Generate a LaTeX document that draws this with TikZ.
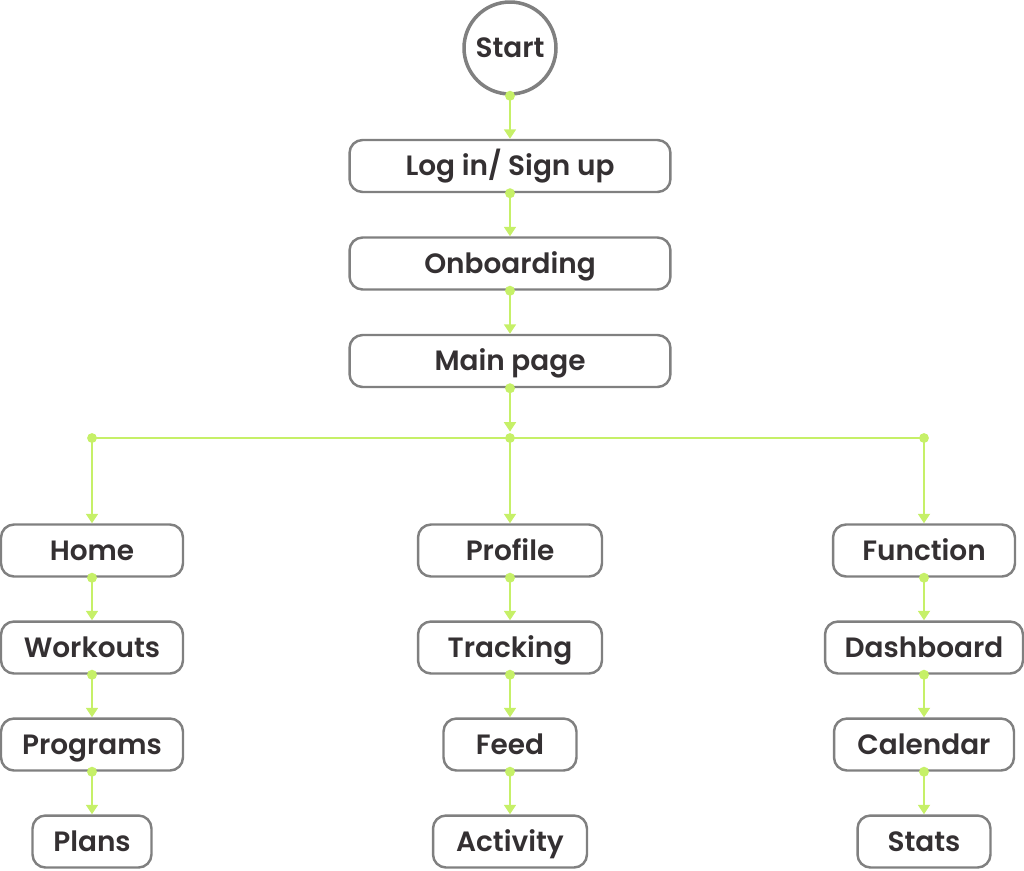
\documentclass[tikz,border=0pt]{standalone}
\usepackage{fontspec}
\setmainfont{Poppins}[BoldFont={Poppins SemiBold}]
\usetikzlibrary{arrows.meta}
\definecolor{lime}{RGB}{198,240,104}
\definecolor{edgegray}{RGB}{128,128,128}
\definecolor{inkdark}{RGB}{52,48,50}
\tikzset{
    label font/.style={text=inkdark,font=\bfseries\fontsize{15.9}{19}\selectfont},
    box/.style={draw=edgegray,line width=1.4pt,rounded corners=0.26cm,fill=white,
        minimum height=1.04cm,inner sep=0pt,text height=13.9pt,text depth=2.8pt,label font},
    link/.style={lime,line width=1.1pt,
        {Circle[length=5.6pt]}-{Triangle[length=5.4pt,width=6.8pt]},shorten <=-2.8pt},
    drop/.style={lime,line width=1.1pt,-{Triangle[length=5.4pt,width=6.8pt]}},
    dot/.style={fill=lime,draw=none,circle,inner sep=0pt,minimum size=5.6pt}
}

\begin{document}
\begin{tikzpicture}[x=0.02cm,y=-0.02cm]
    \useasboundingbox (0,0) rectangle (1024,870);
    % top chain
    \node[circle,draw=edgegray,line width=2pt,minimum size=1.84cm,inner sep=0pt,fill=white,
        text height=13.9pt,text depth=2.8pt,label font] (start) at (510,48) {Start};
    \node[box,minimum width=6.42cm] (login) at (510,166) {Log in/ Sign up};
    \node[box,minimum width=6.42cm] (onboard) at (510,263.5) {Onboarding};
    \node[box,minimum width=6.42cm] (mainpage) at (510,361) {Main page};
    \draw[link] (start.south) -- (login.north);
    \draw[link] (login.south) -- (onboard.north);
    \draw[link] (onboard.south) -- (mainpage.north);
    % branch
    \coordinate (jleft) at (92,438);
    \coordinate (jmid) at (510,438);
    \coordinate (jright) at (924,438);
    \draw[lime,line width=1.1pt] (jleft) -- (jright);
    \draw[link,shorten >=3.6pt] (mainpage.south) -- (jmid);
    \node[dot] at (jleft) {};
    \node[dot] at (jmid) {};
    \node[dot] at (jright) {};
    % left column
    \node[box,minimum width=3.64cm] (home) at (92,550.5) {Home};
    \node[box,minimum width=3.64cm] (workouts) at (92,647.5) {Workouts};
    \node[box,minimum width=3.64cm] (programs) at (92,744.5) {Programs};
    \node[box,minimum width=2.38cm] (plans) at (92,841.5) {Plans};
    \draw[drop] (jleft) -- (home.north);
    \draw[link] (home.south) -- (workouts.north);
    \draw[link] (workouts.south) -- (programs.north);
    \draw[link] (programs.south) -- (plans.north);
    % middle column
    \node[box,minimum width=3.68cm] (profile) at (510,550.5) {Profile};
    \node[box,minimum width=3.68cm] (tracking) at (510,647.5) {Tracking};
    \node[box,minimum width=2.66cm] (feed) at (510,744.5) {Feed};
    \node[box,minimum width=3.08cm] (activity) at (510,841.5) {Activity};
    \draw[drop] (jmid) -- (profile.north);
    \draw[link] (profile.south) -- (tracking.north);
    \draw[link] (tracking.south) -- (feed.north);
    \draw[link] (feed.south) -- (activity.north);
    % right column
    \node[box,minimum width=3.64cm] (function) at (924,550.5) {Function};
    \node[box,minimum width=3.96cm] (dashboard) at (924,647.5) {Dashboard};
    \node[box,minimum width=3.6cm] (calendar) at (924,744.5) {Calendar};
    \node[box,minimum width=2.66cm] (stats) at (924,841.5) {Stats};
    \draw[drop] (jright) -- (function.north);
    \draw[link] (function.south) -- (dashboard.north);
    \draw[link] (dashboard.south) -- (calendar.north);
    \draw[link] (calendar.south) -- (stats.north);
\end{tikzpicture}
\end{document}
